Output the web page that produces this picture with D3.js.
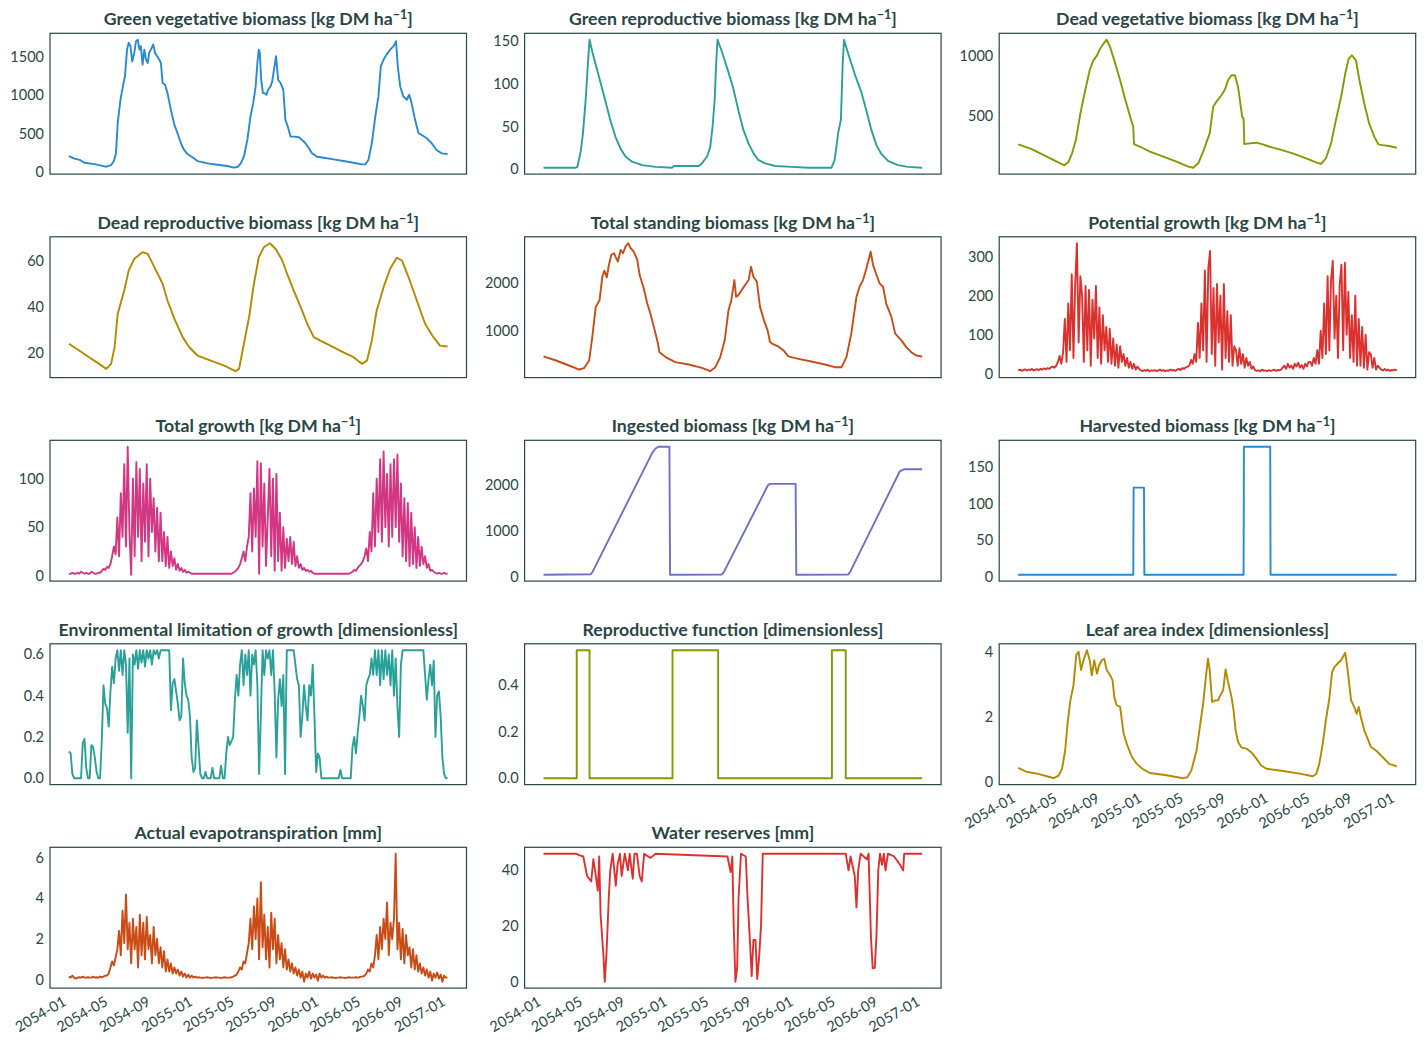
<!DOCTYPE html>
<html>
<head>
<meta charset="utf-8">
<script src="https://cdn.jsdelivr.net/npm/d3@7"></script>
<style>
  body { margin: 0; background: #fff; }
  svg { font-family: Lato, 'Noto Sans', sans-serif; }
  .ttl { font-weight: 700; font-size: 17.7px; fill: #2a4646; }
  .tick-lbl { font-size: 14.5px; fill: #2a4646; }
  .frame { fill: none; stroke: #2a4646; stroke-width: 1.2; }
  .series { fill: none; stroke-width: 1.9; stroke-linejoin: round; }
</style>
</head>
<body>
<div id="chart"></div>
<script>
const width = 1426, height = 1046;
const plot = { left: 50, top: 33.3, w: 416.5, h: 140.8, dx: 474.6, dy: 203.5 };

// ---- data (day offsets from 2054-01-01) ----
const titles = ['Green vegetative biomass', 'Green reproductive biomass', 'Dead vegetative biomass',
  'Dead reproductive biomass', 'Total standing biomass', 'Potential growth',
  'Total growth', 'Ingested biomass', 'Harvested biomass',
  'Environmental limitation of growth', 'Reproductive function', 'Leaf area index',
  'Actual evapotranspiration', 'Water reserves'];
const units = ['kgha', 'kgha', 'kgha', 'kgha', 'kgha', 'kgha', 'kgha', 'kgha', 'kgha',
  'dimensionless', 'dimensionless', 'dimensionless', 'mm', 'mm'];
const xTickLabels = ['2054-01', '2054-05', '2054-09', '2055-01', '2055-05', '2055-09',
  '2056-01', '2056-05', '2056-09', '2057-01'];
const yTicks = [[0, 500, 1000, 1500], [0, 50, 100, 150], [500, 1000], [20, 40, 60], [1000, 2000],
  [0, 100, 200, 300], [0, 50, 100], [0, 1000, 2000], [0, 50, 100, 150], [0, 0.2, 0.4, 0.6],
  [0, 0.2, 0.4], [0, 2, 4], [0, 2, 4, 6], [0, 20, 40]];

const greenVegDays = [0,16,31,45,74,93,108,122,130,136,141,149,156,162,168,173,178,183,189,194,199,204,208,213,218,223,228,232,237,244,249,255,261,266,271,278,285,295,305,314,324,333,343,357,372,401,429,458,477,489,497,506,516,525,533,540,545,549,552,556,561,566,571,576,583,588,593,599,605,612,620,626,633,641,650,665,674,684,694,703,718,737,766,794,823,847,857,866,876,886,895,902,910,919,929,939,946,951,958,967,977,984,991,1001,1011,1020,1035,1049,1063,1078,1095];
const greenVegVals = [206,171,155,118,100,80,66,88,140,240,636,943,1118,1250,1600,1690,1645,1447,1557,1710,1730,1600,1645,1403,1600,1470,1425,1557,1600,1667,1557,1513,1470,1425,1162,1140,1030,811,614,504,373,285,232,189,140,110,92,75,53,66,110,197,417,724,899,1118,1425,1600,1557,1206,1030,1030,1009,1075,1118,1184,1338,1513,1206,1162,1075,680,592,460,460,452,417,373,307,241,197,184,162,140,118,96,96,153,373,724,987,1382,1470,1535,1600,1645,1710,1382,1118,987,943,1009,899,680,504,482,438,373,285,241,232];

const greenRepDays = [0,93,98,108,114,122,128,133,141,153,165,180,194,208,223,237,256,285,324,372,377,449,458,473,482,489,495,499,503,516,535,549,564,578,593,607,621,641,670,718,766,833,842,852,860,865,869,881,900,919,934,948,963,977,996,1025,1054,1095];
const greenRepVals = [2,2,3,22,42,82,121,151,137,119,101,78,56,38,24,15,9,5,3,2,4,4,7,15,26,50,82,121,151,137,113,94,68,46,30,19,11,7,4,3,2,2,11,42,58,121,151,135,111,90,68,46,28,18,10,5,3,2];

const deadVegDays = [0,36,64,93,112,134,146,156,167,180,194,207,216,228,237,249,256,266,281,295,309,324,333,335,353,381,420,458,492,506,521,535,554,564,573,588,598,607,617,627,636,648,652,654,670,689,708,727,756,794,833,862,876,890,905,919,934,946,956,965,977,987,1001,1015,1030,1042,1054,1073,1095];
const deadVegVals = [264,228,189,147,119,89,119,189,300,522,717,883,958,1008,1064,1114,1139,1078,939,800,647,494,411,267,244,203,161,119,78,69,106,203,356,578,619,675,722,800,842,842,744,494,481,267,272,278,264,244,222,189,147,114,100,147,272,467,661,856,981,1008,967,800,606,439,328,264,258,250,236];

const deadRepDays = [0,26,55,84,108,122,132,141,160,173,189,213,228,247,271,285,305,329,348,372,410,449,482,492,506,521,535,549,564,581,598,617,631,650,674,689,708,727,756,794,823,847,862,876,890,910,929,948,963,982,1006,1030,1054,1073,1095];
const deadRepVals = [23.8,21.2,18.3,15.4,12.9,15.1,22.3,36.8,47,55.7,60.7,63.6,62.9,57.1,49.9,42.6,34.6,26.7,22.3,18.7,16.5,14.3,11.9,12.9,23.8,35.4,49.9,61.4,65.8,67.5,65,60,54.2,47,38.3,32.5,26.7,25.2,23,20.1,18,15.1,16.5,25.2,38.3,48.4,56.4,61.2,60,52.8,42.6,32.5,26.7,23,22.6];

const standDays = [0,36,74,103,117,132,141,151,162,170,176,183,189,196,204,208,215,223,230,237,245,252,261,271,278,290,300,309,324,331,335,353,381,420,458,482,497,511,524,535,543,552,557,564,573,583,593,600,607,617,626,639,648,655,665,679,694,708,737,775,814,842,862,876,890,905,914,924,934,940,946,953,963,972,982,991,1006,1017,1035,1049,1063,1078,1095];
const standVals = [465,380,275,190,218,380,873,1507,1648,2141,2268,2127,2387,2599,2634,2563,2458,2704,2634,2775,2845,2739,2669,2493,2176,1894,1577,1366,944,732,556,451,345,296,225,155,239,451,803,1437,1648,2070,1718,1754,1859,1965,2070,2352,2141,2035,1507,1190,1014,768,718,676,592,465,415,359,296,239,239,451,944,1718,1930,2070,2317,2493,2669,2387,2176,2000,1930,1577,1296,944,803,662,556,486,465];

// daily-model outputs read every 5 days
const potGrowthVals = [8,10,7,9,11,8,10,9,12,8,10,11,9,12,10,13,11,14,12,16,18,15,20,
  30,45,25,55, 140,30,180,60,255, 40,230,335,80,250,
  200,30,225,60,215,20,190,90,225,40,170,25,150,60,120,30,
  115,25,90,20,75,15, 70,30,50,20,40,15, 30,12,25,10,18,12,
  8,6,9,7,10,6,8,7,9,6,8,10,7,9,6,8,7,10,8,9,7,10,12,9,14,12,16,18,
  20,35,25,50,30, 130,40,180,60,265, 30,270,315,50,220, 20,230,80,200,10,230,40,
  160,30,150,20,70, 60,20,65,25,50,15,40, 20,30,12,18,
  9,7,8,6,10,7,8,6,9,7,8,10,7,9,8,10,
  15,20,12,25,15,20,12,25,18,28,15,22,12,25,18,30,
  30,20,40,25, 60,25,110,40, 180,50,250,60,240, 290,90,200,40,230, 280,60,285,100,210,
  40,150,30,200,20,140, 20,120,15,100,10,55, 50,15,40,10,20,
  15,10,8,12,8,10,7,9,8,10,8];

const totGrowthVals = [2,2,3,2,2,3,2,4,3,2,3,2,2,4,3,2,2,3,3,
  5,7,6,9,8,12, 20,30,22,60, 20,85,40,115,30, 133,45,1,
  100,20,117,40,110,15,95,35,115,20,100,45,80,25,70,15,
  65,15,45,10,40,8, 25,10,18,6,12,5, 8,4,6,3,4,3,
  2,2,2,2,2,2,2,2,2,2,2,2,2,2,2,2,2,2,2,2,2,2,2,2,3,
  4,6,8,12,18, 25,15,30,40, 85,25,90,40,118, 2,116,30,95,10,
  60,110,20,100,5,105, 15,65,5,50,8, 38,15,40,12,35,10,20, 8,12,6,8,5,6,4,5,
  3,2,2,2,2,2,2,2,2,2,2,2,2,2,2,2,2,2,2,2,2,2,3,
  4,6,5,8,10,12,15, 20,28,15,45,25, 85,30,100,45,120,35, 128,50,105,30,115,40,
  120,50,125,35,95,20, 80,15,75,10,65,12, 50,8,40,10,30,12, 20,8,12,5,6,4,
  3,2,3,2,2,3,2,2];

const ingestDays = [0,136,141,314,324,333,364,366,516,521,649,655,729,731,881,886,1030,1044,1095];
const ingestVals = [50,60,100,2700,2800,2840,2840,50,55,100,2000,2030,2030,50,55,100,2300,2350,2350];

const harvestDays = [0,333,334,364,365,652,653,729,730,1095];
const harvestVals = [3,3,122,122,3,3,178,178,3,3];

const envLimVals = [0.13,0.12,0.02,0,0,0,0,0,0.17,0.19,
  0.05,0,0,0.16,0.15,0.1,0.03,0,0,0.18,
  0.45,0.36,0.34,0.25,0.42,0.54,0.46,0.58,0.62,0.52,
  0.62,0.5,0.62,0.55,0.22,0.58,0,0.6,0.55,0.62,
  0.53,0.62,0.56,0.62,0.54,0.62,0.58,0.62,0.55,0.62,
  0.6,0.62,0.58,0.62,0.62,0.62,0.62,0.62,0.62,0.33,
  0.46,0.48,0.42,0.36,0.28,0.3,0.58,0.46,0.4,0.38,
  0.3,0.1,0.03,0.05,0.28,0.15,0.02,0,0,0.03,
  0,0,0,0.05,0,0,0,0,0.06,0,
  0,0.12,0.2,0.16,0.18,0.2,0.38,0.5,0.4,0.55,
  0.62,0.45,0.6,0.5,0.62,0.4,0.6,0.55,0.62,0.45,
  0.02,0.3,0.62,0.5,0.62,0.58,0.62,0.5,0.62,0.42,
  0.1,0.38,0.48,0.35,0.5,0.02,0.62,0.62,0.62,0.62,
  0.62,0.55,0.48,0.45,0.2,0.3,0.45,0.35,0.28,0.45,
  0.4,0.55,0.3,0.03,0.12,0.1,0,0,0,0,
  0,0,0,0,0,0,0,0.04,0,0,
  0,0,0,0,0.15,0.2,0.12,0.22,0.3,0.4,
  0.35,0.28,0.45,0.48,0.5,0.58,0.5,0.62,0.5,0.62,
  0.45,0.62,0.48,0.62,0.5,0.6,0.45,0.62,0.4,0.58,
  0.35,0.2,0.55,0.62,0.62,0.62,0.62,0.62,0.62,0.62,
  0.62,0.62,0.62,0.62,0.62,0.62,0.5,0.38,0.48,0.55,
  0.45,0.57,0.2,0.4,0.42,0.3,0.1,0.02,0,0];

const reproFnDays = [0,96,96,133,133,373,373,505,505,834,834,874,874,1095];
const reproFnVals = [0,0,0.55,0.55,0,0,0.55,0.55,0,0,0.55,0.55,0,0];

const laiDays = [0,26,55,93,103,117,127,136,143,151,160,168,175,182,189,199,207,213,220,228,234,242,249,256,266,273,278,285,295,305,314,329,343,362,381,429,477,489,501,516,527,535,543,549,554,561,569,578,585,593,600,607,617,623,629,636,646,660,674,689,703,718,766,814,852,862,871,881,890,900,908,915,924,934,946,953,963,972,979,985,991,1001,1011,1020,1035,1054,1073,1095];
const laiVals = [0.44,0.31,0.26,0.15,0.12,0.2,0.41,0.97,1.8,2.5,2.97,3.9,4.0,3.44,3.74,4.05,3.74,3.28,3.74,3.33,3.59,3.74,3.79,3.44,3.28,3.13,2.62,2.36,2.31,1.49,1.18,0.77,0.56,0.39,0.28,0.21,0.12,0.15,0.36,0.97,1.8,2.41,3.23,3.79,3.44,2.46,2.51,2.51,2.67,2.82,3.46,3.08,2.62,2.21,1.59,1.23,1.06,1.03,0.92,0.72,0.51,0.41,0.34,0.26,0.18,0.24,0.56,1.18,1.9,2.56,3.38,3.54,3.64,3.74,3.97,3.44,2.51,2.31,2.1,2.31,2.0,1.59,1.33,1.08,0.97,0.77,0.56,0.48];

const aetVals = [0.15,0.1,0.2,0.1,0.05,0.1,0.12,0.1,0.15,0.1,0.1,0.12,0.1,0.1,0.15,0.1,0.12,0.1,0.15,0.12,0.15,0.2,0.2,0.3,
  0.6,0.9,0.7,1.1, 1.5,2.4,1.2,3.4, 1.8,4.2,1.5,2.8,
  0.8,3.0,1.5,2.6,0.6,3.2,1.2,2.8,1.0,3.1,1.5,2.2,0.8,2.6,1.2,2.0,0.8,1.6,
  0.6,1.4,0.4,1.0,0.4,0.8,0.3,0.6,0.3,
  0.5,0.2,0.4,0.15,0.3,0.1,0.25,0.1,0.2,0.1,0.15,0.1,0.12,0.1,
  0.08,0.1,0.1,0.12,0.1,0.08,0.1,0.1,0.12,0.1,0.1,0.08,0.1,0.12,0.1,0.1,0.1,0.12,0.15,0.2,0.25,
  0.4,0.6,0.5,0.9,0.8,1.3, 1.8,3.0,1.5,3.6,2.0, 4.0,1.0,4.8,1.6,
  3.2,1.0,2.6,0.6,3.3,1.5,3.0,0.8,2.2,1.0,1.8,0.6,
  1.5,0.5,1.0,0.4,0.8,0.3,0.6,0.2,
  0.5,0.1,0.4,-0.1,0.3,0.1,0.4,0.05,0.3,0.1,0.25,-0.05,0.3,0.1,0.2,0.1,0.15,0.1,
  0.1,0.12,0.1,0.08,0.1,0.1,0.12,0.1,0.1,0.08,0.1,0.12,0.1,0.1,0.1,0.12,0.1,0.12,0.15,0.15,0.2,
  0.3,0.5,0.4,0.8,0.6, 1.2,2.2,1.0,2.6,1.5,3.0,2.0, 3.8,1.2,2.8, 2.0,3.0,6.2,
  1.5,2.8,1.0,2.5,0.8,2.2,1.2,1.6, 0.6,1.5,0.5,1.2,0.4,0.8,
  0.3,0.6,0.2,0.5,0.1,0.4,-0.05,0.3,0.1,0.35,0.05,0.25,-0.1,0.2,0.1,0.1];

const waterDays = [0,94,103,115,126,138,144,149,157,161,165,173,177,182,189,193,200,209,214,221,226,235,244,249,258,263,270,278,284,291,296,310,324,532,541,546,550,555,560,564,571,585,590,597,602,607,613,618,623,629,634,874,882,888,900,905,910,917,935,940,947,952,958,963,968,973,979,984,989,996,1014,1031,1040,1043,1095];
const waterVals = [46,46,45.5,45,38,36,44,40,32.7,45,24,10,0,10,31,40,46,34.5,42,46,38,46,40,46,37,46,46,38,36,46,45.5,44.5,46,45,39.4,45,20,0,5,30,46,45,30,14.5,2,15,15,1,8,20,46,46,40,45,38,26.7,40,46,44,46,15.7,4.8,5,17,40,46,42,46,40,46,45,42,40,46,46];

// ---- build panels ----
const step5 = d3.range(220).map(i => i * 5);
const seriesDays = [greenVegDays, greenRepDays, deadVegDays, deadRepDays, standDays, step5,
  step5, ingestDays, harvestDays, step5, reproFnDays, laiDays, step5, waterDays];
const seriesVals = [greenVegVals, greenRepVals, deadVegVals, deadRepVals, standVals, potGrowthVals,
  totGrowthVals, ingestVals, harvestVals, envLimVals, reproFnVals, laiVals, aetVals, waterVals];
const colors = ['#268bd2', '#2aa198', '#859900', '#b58900', '#cb4b16', '#dc322f', '#d33682',
  '#6c71c4', '#268bd2', '#2aa198', '#859900', '#b58900', '#cb4b16', '#dc322f'];
const withDates = [11, 12, 13];

const t0 = Date.UTC(2054, 0, 1);
const dayToDate = d => new Date(t0 + d * 864e5);
const parseMonth = d3.utcParse('%Y-%m');
const pad = 0.05 * 1095 * 864e5;
const xScale = d3.scaleUtc()
  .domain([new Date(t0 - pad), new Date(t0 + 1095 * 864e5 + pad)])
  .range([0, plot.w]);

const svg = d3.select('#chart').append('svg')
  .attr('width', width).attr('height', height);

function drawTitle(g, i) {
  const t = g.append('text').attr('class', 'ttl')
    .attr('x', plot.w / 2).attr('y', -8).attr('text-anchor', 'middle');
  if (units[i] === 'kgha') {
    t.append('tspan').text(titles[i] + ' [kg DM ha');
    t.append('tspan').attr('dy', -6).attr('font-size', '12.5px').text('\u22121');
    t.append('tspan').attr('dy', 6).text(']');
  } else {
    t.append('tspan').text(titles[i] + ' [' + units[i] + ']');
  }
}

titles.forEach((title, i) => {
  const col = i % 3, row = Math.floor(i / 3);
  const g = svg.append('g')
    .attr('transform', 'translate(' + (plot.left + col * plot.dx) + ',' + (plot.top + row * plot.dy) + ')');

  const data = seriesVals[i].map((v, k) => ({ date: dayToDate(seriesDays[i][k]), v: v }));
  const ext = d3.extent(seriesVals[i]);
  const span = ext[1] - ext[0];
  const yScale = d3.scaleLinear()
    .domain([ext[0] - 0.05 * span, ext[1] + 0.05 * span])
    .range([plot.h, 0]);

  const line = d3.line().x(d => xScale(d.date)).y(d => yScale(d.v));
  g.append('path').datum(data)
    .attr('class', 'series')
    .attr('stroke', colors[i])
    .attr('d', line);

  const fmt = i === 9 || i === 10 ? d3.format('.1f') : d3.format('d');
  g.selectAll('.ylbl').data(yTicks[i]).enter()
    .append('text').attr('class', 'tick-lbl')
    .attr('x', -6).attr('y', d => yScale(d))
    .attr('dy', '0.35em').attr('text-anchor', 'end')
    .text(d => fmt(d));

  g.append('rect').attr('class', 'frame')
    .attr('width', plot.w).attr('height', plot.h);

  if (withDates.includes(i)) {
    g.selectAll('.xlbl').data(xTickLabels).enter()
      .append('text').attr('class', 'tick-lbl')
      .attr('transform', d => 'translate(' + (xScale(parseMonth(d)) - 7) + ',' + (plot.h + 7) + ') rotate(-30)')
      .attr('text-anchor', 'end').attr('dy', '0.75em')
      .text(d => d);
  }

  drawTitle(g, i);
});
</script>
</body>
</html>
